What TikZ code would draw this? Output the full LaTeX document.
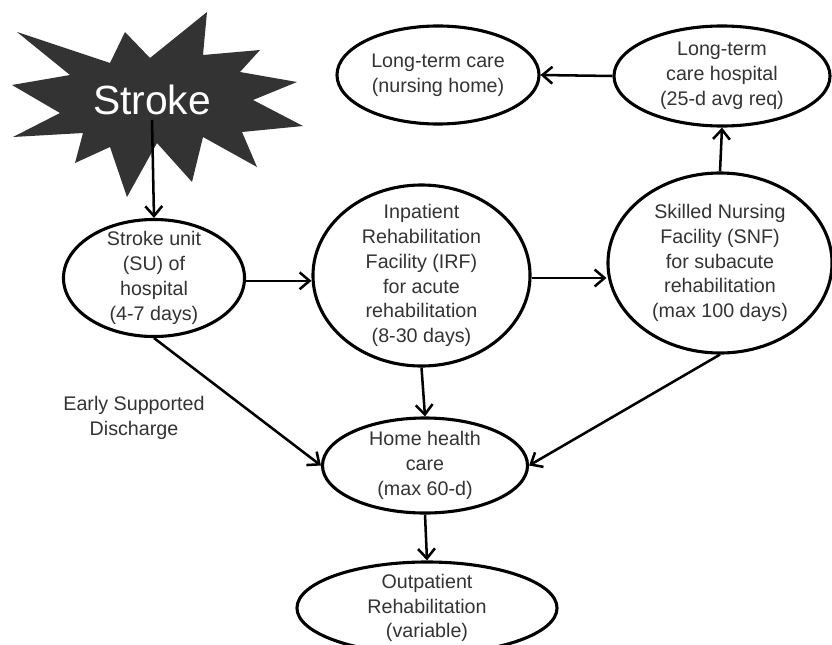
\documentclass[tikz,border=0pt]{standalone}
\usepackage{fontspec}
\setmainfont{Liberation Sans}
\usetikzlibrary{shapes.geometric,arrows.meta}
\tikzset{
  stage/.style={ellipse,draw=black,line width=2.2pt,inner sep=-1cm,align=center,
    text=black!80,font=\fontsize{14}{17.7}\selectfont},
  flow/.style={line width=1.8pt,-{Straight Barb[length=7pt,width=12pt,line width=1.8pt]}}
}
\begin{document}
\begin{tikzpicture}[x=0.025cm,y=-0.025cm]
    \useasboundingbox[fill=white] (0,0) rectangle (832,644);
    \fill[black!80] (17,32) -- (110,63) -- (125,32) -- (150,58) -- (207,12) -- (203,55)
      -- (260,50) -- (240,72) -- (297,82) -- (253,100) -- (303,126) -- (242,132)
      -- (257,167) -- (203,137) -- (192,182) -- (157,143) -- (127,197) -- (110,147)
      -- (75,163) -- (83,133) -- (13,137) -- (60,113) -- (12,85) -- (70,75) -- cycle;
    \node[white,font=\fontsize{29}{32}\selectfont] (stroke) at (152,100) {Stroke};
    \node[stage,minimum width=4.525cm,minimum height=2.925cm] (su) at (154,278)
      {Stroke unit\\(SU) of\\hospital\\(4-7 days)};
    \node[stage,minimum width=5.425cm,minimum height=4.525cm] (irf) at (421.5,275.5)
      {Inpatient\\Rehabilitation\\Facility (IRF)\\for acute\\rehabilitation\\(8-30 days)};
    \node[stage,minimum width=5.6cm,minimum height=4.5cm] (snf) at (720,263)
      {Skilled Nursing\\Facility (SNF)\\for subacute\\rehabilitation\\(max 100 days)};
    \node[stage,minimum width=5.4cm,minimum height=2.5cm] (ltch) at (722,76)
      {Long-term\\care hospital\\(25-d avg req)};
    \node[stage,minimum width=5.05cm,minimum height=2.45cm] (ltc) at (438,75)
      {Long-term care\\(nursing home)};
    \node[stage,minimum width=5.125cm,minimum height=2.375cm] (home) at (425,465.5)
      {Home health\\care\\(max 60-d)};
    \node[stage,minimum width=6.5cm,minimum height=2.3cm] (out) at (427,608)
      {Outpatient\\Rehabilitation\\(variable)};
    \node[align=center,text=black!80,font=\fontsize{14}{17.7}\selectfont] (esd) at (134,418)
      {Early Supported\\Discharge};
    \draw[flow] (stroke.south) -- (su.north);
    \draw[flow] ([yshift=-2pt]su.east) -- ([yshift=-2pt]su.east -| irf.west);
    \draw[flow] (irf.east |- su.east) -- (snf.west |- su.east);
    \draw[flow] (su.south) -- (home.west);
    \draw[flow] (irf.south) -- (home.north);
    \draw[flow] (snf.south) -- (home.east);
    \draw[flow] (home.south) -- (out.north);
    \draw[flow] (snf.north) -- (ltch.south);
    \draw[flow] (ltch.west) -- (ltc.east);
\end{tikzpicture}
\end{document}
